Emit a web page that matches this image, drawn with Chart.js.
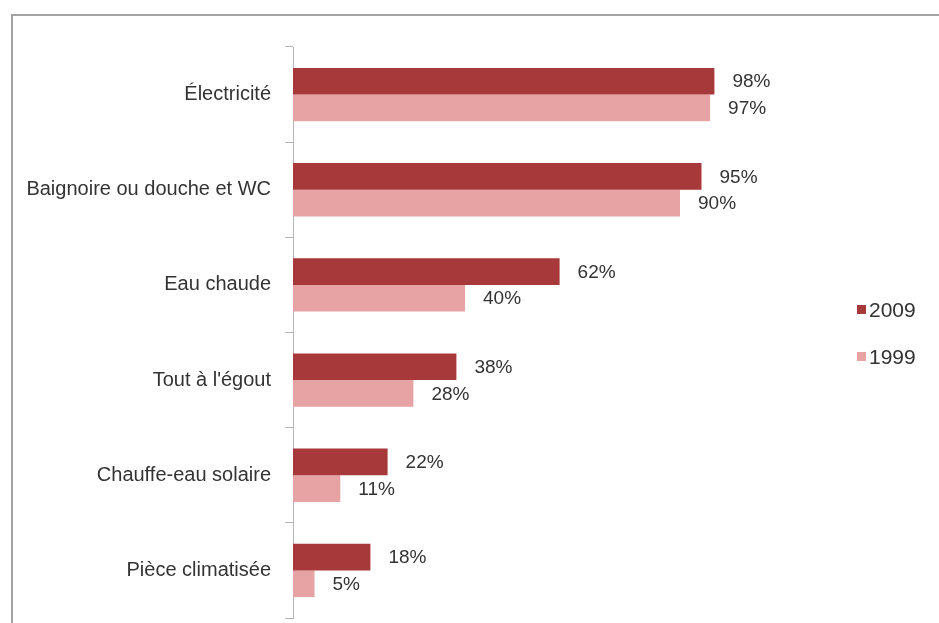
<!DOCTYPE html>
<html>
<head>
<meta charset="utf-8">
<script src="https://cdn.jsdelivr.net/npm/chart.js@4.4.1/dist/chart.umd.min.js"></script>
<style>
    html, body { margin: 0; padding: 0; background: #fff; overflow: hidden; }
    #wrap { position: relative; width: 939px; height: 623px; }
    #frame { position: absolute; left: 11px; top: 14px; width: 1000px; height: 1000px; border: 2px solid #a3a3a3; }
    canvas { position: absolute; left: 0; top: 0; }
</style>
</head>
<body>
<div id="wrap">
    <div id="frame"></div>
    <canvas id="equipChart" width="939" height="623"></canvas>
</div>
<script>
// Equipment of dwellings, share of households (%)
const categories = ['Électricité', 'Baignoire ou douche et WC', 'Eau chaude', "Tout à l'égout", 'Chauffe-eau solaire', 'Pièce climatisée'];
const seriesNames = ['2009', '1999'];
const values2009 = [98, 95, 62, 38, 22, 18];
const values1999 = [97, 90, 40, 28, 11, 5];

const darkRed = '#a7393a';
const lightRed = '#e7a2a4';
const textColor = '#333333';
const fontFamily = '"Liberation Sans", Arial, sans-serif';

// Percent labels at the end of each bar
const valueLabels = {
    id: 'valueLabels',
    afterDatasetsDraw(chart) {
        const ctx = chart.ctx;
        ctx.save();
        ctx.font = '19px ' + fontFamily;
        ctx.fillStyle = textColor;
        ctx.textAlign = 'left';
        ctx.textBaseline = 'middle';
        chart.data.datasets.forEach((ds, i) => {
            chart.getDatasetMeta(i).data.forEach((bar, j) => {
                ctx.fillText(ds.data[j] + '%', bar.x + 18, bar.y + 1);
            });
        });
        ctx.restore();
    }
};

// Small square legend on the right
const sideLegend = {
    id: 'sideLegend',
    afterDraw(chart) {
        const ctx = chart.ctx;
        ctx.save();
        ctx.font = '21px ' + fontFamily;
        ctx.textBaseline = 'middle';
        chart.data.datasets.forEach((ds, i) => {
            const y = 310 + i * 47;
            ctx.fillStyle = ds.backgroundColor;
            ctx.fillRect(857, y - 5, 9, 9);
            ctx.fillStyle = textColor;
            ctx.fillText(ds.label, 869, y + 1);
        });
        ctx.restore();
    }
};

const ctx = document.getElementById('equipChart').getContext('2d');
const equipChart = new Chart(ctx, {
    type: 'bar',
    data: {
        labels: categories,
        datasets: [{
            label: seriesNames[0],
            data: values2009,
            backgroundColor: darkRed,
            categoryPercentage: 0.56,
            barPercentage: 1.0
        }, {
            label: seriesNames[1],
            data: values1999,
            backgroundColor: lightRed,
            categoryPercentage: 0.56,
            barPercentage: 1.0
        }]
    },
    options: {
        indexAxis: 'y',
        responsive: false,
        animation: false,
        layout: {
            padding: { left: 0, right: 216, top: 47, bottom: 5 }
        },
        scales: {
            x: {
                display: false,
                min: 0,
                max: 100
            },
            y: {
                afterFit: (scale) => {
                    scale.width = 293;
                    scale.paddingTop = 0;
                    scale.paddingBottom = 0;
                },
                grid: {
                    drawOnChartArea: false,
                    tickLength: 8,
                    color: '#b5b5b5'
                },
                border: { color: '#b5b5b5', width: 1 },
                ticks: {
                    padding: 14,
                    color: textColor,
                    font: { family: fontFamily, size: 20 }
                }
            }
        },
        plugins: {
            legend: { display: false },
            tooltip: { enabled: false }
        }
    },
    plugins: [valueLabels, sideLegend]
});
</script>
</body>
</html>
